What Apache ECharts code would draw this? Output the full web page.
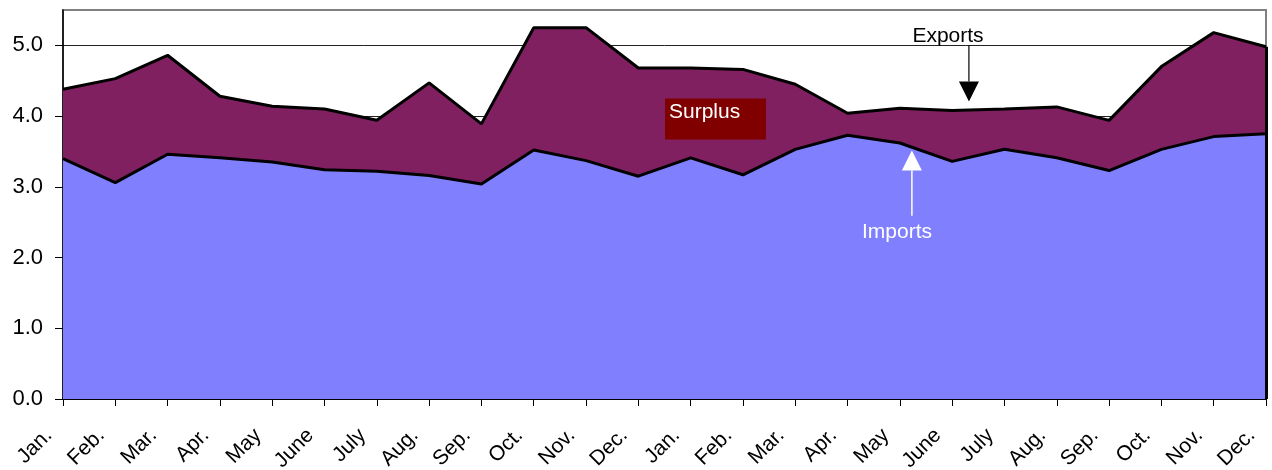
<!DOCTYPE html>
<html><head><meta charset="utf-8">
<script src="https://cdn.jsdelivr.net/npm/echarts@6/dist/echarts.min.js"></script>
<style>html,body{margin:0;padding:0;background:#fff}#c{width:1272px;height:470px}</style>
</head><body><div id="c"></div>
<script>
const months = ['Jan.','Feb.','Mar.','Apr.','May','June','July','Aug.','Sep.','Oct.','Nov.','Dec.'];
const categories = months.concat(months);
const exportsData = [4.38,4.53,4.86,4.28,4.14,4.10,3.94,4.47,3.89,5.25,5.25,4.68,4.68,4.66,4.45,4.04,4.11,4.08,4.10,4.13,3.94,4.70,5.18,4.98];
const importsData = [3.40,3.06,3.46,3.41,3.35,3.24,3.22,3.16,3.04,3.52,3.37,3.15,3.41,3.17,3.53,3.73,3.62,3.36,3.53,3.41,3.23,3.53,3.71,3.75];
const yMin = 0, yMax = 5.5, yStep = 1;

const FONT = '"Liberation Sans", Arial, sans-serif';
const chart = echarts.init(document.getElementById('c'), null, {renderer:'canvas'});
const last = categories.length - 1;

chart.setOption({
  animation: false,
  backgroundColor: '#fff',
  grid: {left: 63, right: 6, top: 10, bottom: 71, outerBoundsMode: 'none', containLabel: false,
    show: true, borderColor: '#808080', borderWidth: 2, backgroundColor: 'transparent'},
  xAxis: [{
    type: 'category', data: categories, boundaryGap: false,
    axisLine: {show: true, lineStyle: {color: '#000', width: 2}},
    axisTick: {show: true, interval: 0, length: 7, lineStyle: {color: '#000', width: 1}},
    axisLabel: {interval: 0, rotate: 45, margin: 19, padding: [0, 20, 0, 0], fontSize: 21, color: '#000', fontFamily: FONT, hideOverlap: false},
    splitLine: {show: false}
  }, {
    type: 'value', min: 0, max: last, show: false, gridIndex: 0
  }],
  yAxis: {
    type: 'value', min: yMin, max: yMax, interval: yStep,
    axisLine: {show: true, lineStyle: {color: '#000', width: 1.5}},
    axisTick: {show: true, length: 8, lineStyle: {color: '#000'}},
    axisLabel: {margin: 20, fontSize: 22, color: '#000', fontFamily: FONT, showMaxLabel: false, formatter: v => v.toFixed(1)},
    splitLine: {show: true, showMaxLine: false, lineStyle: {color: '#222', width: 1}}
  },
  series: [{
    name: 'Exports', type: 'line', data: exportsData, symbol: 'none',
    lineStyle: {color: '#000', width: 3},
    areaStyle: {color: '#802060', opacity: 1},
    markLine: {silent: true, symbol: 'none', label: {show: false},
      lineStyle: {color: '#000', width: 3, type: 'solid'},
      data: [[{coord: [last, 0]}, {coord: [last, exportsData[last]]}]]}
  }, {
    name: 'Imports', type: 'line', data: importsData, symbol: 'none',
    lineStyle: {color: '#000', width: 3},
    areaStyle: {color: '#8080FF', opacity: 1}
  }]
});

const P = (x, y) => chart.convertToPixel({xAxisIndex: 1, yAxisIndex: 0}, [x, y]);
const ann = {
  exportsText: [16.92, 5.127],
  exportsArrow: [17.32, 5.0, 4.207],
  importsArrow: [16.23, 2.592, 3.513],
  importsText: [15.945, 2.365],
  surplusBox: [11.51, 4.249, 13.44, 3.669],
  surplusText: [11.585, 4.051]
};
const et = P(...ann.exportsText);
const ea0 = P(ann.exportsArrow[0], ann.exportsArrow[1]);
const ea1 = P(ann.exportsArrow[0], ann.exportsArrow[2]);
const ia0 = P(ann.importsArrow[0], ann.importsArrow[1]);
const ia1 = P(ann.importsArrow[0], ann.importsArrow[2]);
const it = P(...ann.importsText);
const sb0 = P(ann.surplusBox[0], ann.surplusBox[1]);
const sb1 = P(ann.surplusBox[2], ann.surplusBox[3]);
const st = P(...ann.surplusText);
const headH = 20, headW = 10;
const AFONT = '21px ' + FONT;

chart.setOption({graphic: {elements: [
  {type: 'rect', z: 100, shape: {x: sb0[0], y: sb0[1], width: sb1[0]-sb0[0], height: sb1[1]-sb0[1]}, style: {fill: '#800000'}},
  {type: 'text', z: 101, style: {text: 'Surplus', x: st[0], y: st[1], fill: '#fff', font: AFONT, align: 'left', verticalAlign: 'middle'}},
  {type: 'text', z: 101, style: {text: 'Exports', x: et[0], y: et[1], fill: '#000', font: AFONT, align: 'center', verticalAlign: 'middle'}},
  {type: 'line', z: 101, shape: {x1: ea0[0], y1: ea0[1], x2: ea1[0], y2: ea1[1] - headH}, style: {stroke: '#000', lineWidth: 1.2}},
  {type: 'polygon', z: 101, shape: {points: [[ea1[0]-headW, ea1[1]-headH], [ea1[0]+headW, ea1[1]-headH], [ea1[0], ea1[1]]]}, style: {fill: '#000'}},
  {type: 'line', z: 101, shape: {x1: ia0[0], y1: ia0[1], x2: ia1[0], y2: ia1[1] + headH}, style: {stroke: '#fff', lineWidth: 1.5}},
  {type: 'polygon', z: 101, shape: {points: [[ia1[0]-headW, ia1[1]+headH], [ia1[0]+headW, ia1[1]+headH], [ia1[0], ia1[1]]]}, style: {fill: '#fff'}},
  {type: 'text', z: 101, style: {text: 'Imports', x: it[0], y: it[1], fill: '#fff', font: AFONT, align: 'center', verticalAlign: 'middle'}}
]}});
</script></body></html>
